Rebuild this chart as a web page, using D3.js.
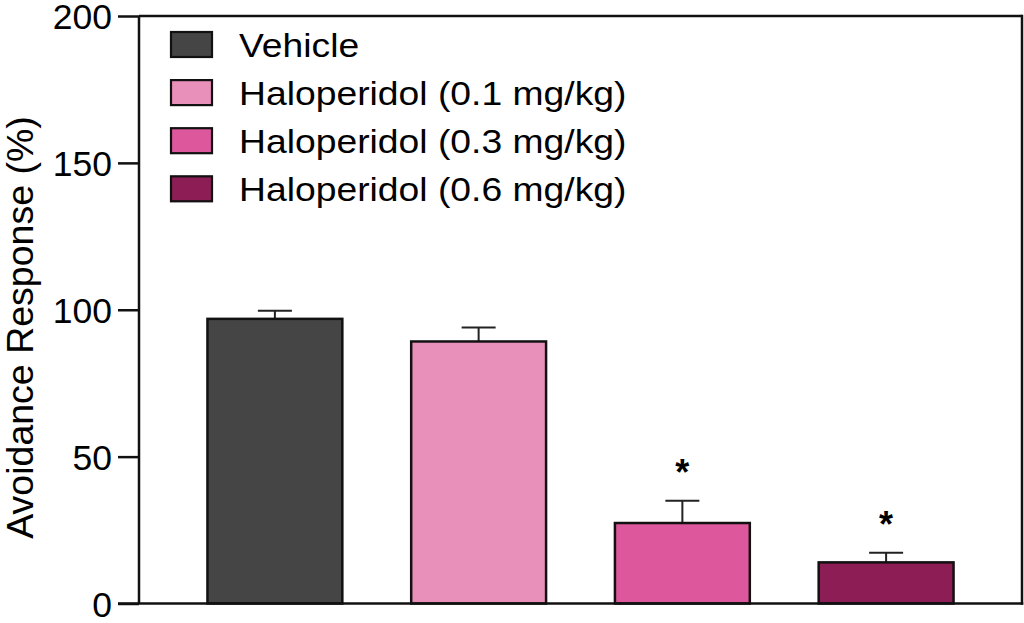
<!DOCTYPE html>
<html>
<head>
<meta charset="utf-8">
<script src="https://cdn.jsdelivr.net/npm/d3@7"></script>
<style>
  html, body { margin: 0; padding: 0; background: #fff; }
  svg { display: block; }
  text { font-family: "Liberation Sans", Arial, Helvetica, sans-serif; fill: #000; }
</style>
</head>
<body>
<svg id="chart" width="1024" height="623"></svg>
<script>
const categories = ["Vehicle", "Haloperidol (0.1 mg/kg)", "Haloperidol (0.3 mg/kg)", "Haloperidol (0.6 mg/kg)"];
const means = [96.9, 89.2, 27.4, 14.0];
const errors = [2.8, 4.8, 7.6, 3.3];
const significant = [false, false, true, true];
const colors = ["#454545", "#e990ba", "#dd579c", "#8c1d55"];
const yTicks = [0, 50, 100, 150, 200];
const yLabel = "Avoidance Response (%)";

const svg = d3.select("#chart");
const mLeft = 139, mRight = 1022, mTop = 16, mBottom = 603.5;

const x = d3.scaleBand().domain(categories).range([mLeft, mRight])
  .paddingInner(0.338).paddingOuter(0.336);
const y = d3.scaleLinear().domain([0, 200]).range([mBottom, mTop]);

// frame top & right
svg.append("line").attr("x1", mLeft).attr("x2", mRight).attr("y1", y(200)).attr("y2", y(200))
  .attr("stroke", "#111").attr("stroke-width", 2.5);
svg.append("line").attr("x1", mRight).attr("x2", mRight).attr("y1", y(200) - 1.25).attr("y2", mBottom + 1.25)
  .attr("stroke", "#111").attr("stroke-width", 2.5);

// bars
const g = svg.append("g");
categories.forEach((c, i) => {
  const cx = x(c) + x.bandwidth() / 2;
  g.append("line").attr("x1", cx).attr("x2", cx)
    .attr("y1", y(means[i])).attr("y2", y(means[i] + errors[i]))
    .attr("stroke", "#222").attr("stroke-width", 2);
  g.append("line").attr("x1", cx - 17).attr("x2", cx + 17)
    .attr("y1", y(means[i] + errors[i])).attr("y2", y(means[i] + errors[i]))
    .attr("stroke", "#222").attr("stroke-width", 2);
  g.append("rect").attr("x", x(c)).attr("y", y(means[i]))
    .attr("width", x.bandwidth()).attr("height", y(0) - y(means[i]))
    .attr("fill", colors[i]).attr("stroke", "#111").attr("stroke-width", 2.5);
  if (significant[i]) {
    g.append("text").attr("x", cx).attr("y", y(means[i] + errors[i]) - 16)
      .attr("text-anchor", "middle").attr("font-size", 36).attr("font-weight", "bold").text("*");
  }
});

// y axis
const yAxis = d3.axisLeft(y).tickValues(yTicks).tickSize(21).tickPadding(6);
const ya = svg.append("g").attr("transform", `translate(${mLeft},0)`).call(yAxis);
ya.select(".domain").attr("stroke", "#111").attr("stroke-width", 2.5)
  .attr("d", `M0,${y(200)}V${mBottom}`);
ya.selectAll(".tick line").attr("stroke", "#111").attr("stroke-width", 2.5);
ya.selectAll(".tick text").attr("font-size", 35.5).attr("fill", "#000")
  .attr("font-family", "Liberation Sans, Arial, sans-serif").attr("dy", "0.36em");

// x baseline
svg.append("line").attr("x1", mLeft - 21).attr("x2", mRight + 1.25).attr("y1", mBottom).attr("y2", mBottom)
  .attr("stroke", "#111").attr("stroke-width", 2.5);

// y label
svg.append("text").attr("transform", `translate(33,${(115 + 540) / 2}) rotate(-90)`)
  .attr("text-anchor", "middle").attr("font-size", 37.5).text(yLabel);

// legend
const lg = svg.append("g");
categories.forEach((c, i) => {
  const yy = 32 + i * 48.1;
  lg.append("rect").attr("x", 171).attr("y", yy).attr("width", 41).attr("height", 25)
    .attr("fill", colors[i]).attr("stroke", "#111").attr("stroke-width", 2.2);
  lg.append("text").attr("transform", `translate(239,${yy + 25}) scale(1.13,1)`)
    .attr("font-size", 33).text(c);
});
</script>
</body>
</html>
